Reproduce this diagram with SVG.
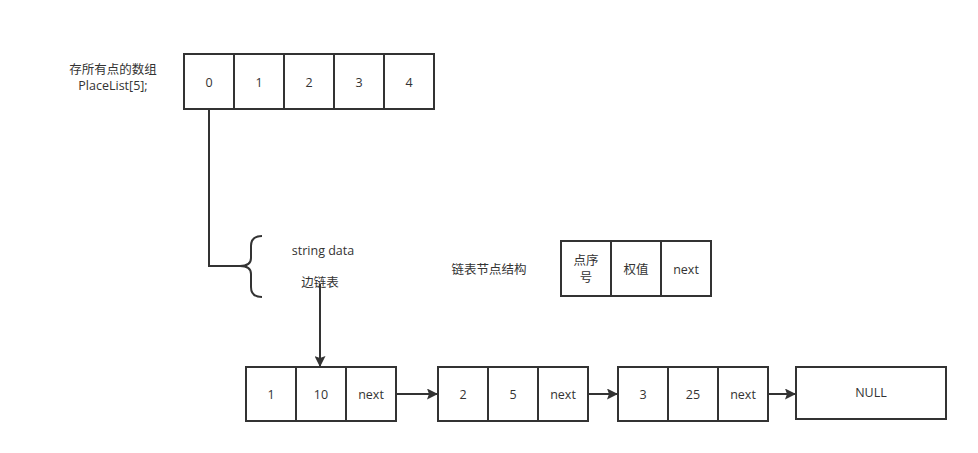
<svg xmlns="http://www.w3.org/2000/svg" width="978" height="453" viewBox="0 0 978 453">
<defs>
<style>
.box{fill:#fff;stroke:#333;stroke-width:2}
.ln{fill:none;stroke:#333;stroke-width:2}
text{font-family:"Open Sans","Noto Sans CJK SC",sans-serif;font-size:12.5px;fill:#333;text-anchor:middle;dominant-baseline:central}
</style>
<marker id="ah" markerWidth="11" markerHeight="11" refX="10" refY="5.5" orient="auto" markerUnits="userSpaceOnUse">
<path d="M0,0 L11,5.5 L0,11 L2,5.5 Z" fill="#333"/>
</marker>
</defs>
<rect width="978" height="453" fill="#fff"/>
<g id="array-label">
<text x="113" y="69">存所有点的数组</text>
<text x="113" y="85">PlaceList[5];</text>
</g>
<g id="array">
<rect class="box" x="184" y="54" width="50" height="55"/><text x="209" y="82">0</text>
<rect class="box" x="234" y="54" width="50" height="55"/><text x="259" y="82">1</text>
<rect class="box" x="284" y="54" width="50" height="55"/><text x="309" y="82">2</text>
<rect class="box" x="334" y="54" width="50" height="55"/><text x="359" y="82">3</text>
<rect class="box" x="384" y="54" width="50" height="55"/><text x="409" y="82">4</text>
</g>
<g id="brace">
<path class="ln" d="M262,236 Q251,236 251,246 L251,258 Q251,266 240,266 Q251,266 251,274 L251,287 Q251,297 262,297"/>
<text x="323" y="250">string data</text>
<text x="320" y="282">边链表</text>
</g>
<g id="struct-label">
<text x="489" y="269">链表节点结构</text>
</g>
<g id="struct">
<rect class="box" x="561" y="241" width="50" height="55"/>
<text x="586" y="260">点序</text><text x="586" y="277">号</text>
<rect class="box" x="611" y="241" width="50" height="55"/><text x="636" y="269">权值</text>
<rect class="box" x="661" y="241" width="50" height="55"/><text x="686" y="269">next</text>
</g>
<g id="node1">
<rect class="box" x="246" y="367" width="50" height="54"/><text x="271" y="394">1</text>
<rect class="box" x="296" y="367" width="50" height="54"/><text x="321" y="394">10</text>
<rect class="box" x="346" y="367" width="50" height="54"/><text x="371" y="394">next</text>
</g>
<g id="node2">
<rect class="box" x="438" y="367" width="50" height="54"/><text x="463" y="394">2</text>
<rect class="box" x="488" y="367" width="50" height="54"/><text x="513" y="394">5</text>
<rect class="box" x="538" y="367" width="50" height="54"/><text x="563" y="394">next</text>
</g>
<g id="node3">
<rect class="box" x="618" y="367" width="50" height="54"/><text x="643" y="394">3</text>
<rect class="box" x="668" y="367" width="50" height="54"/><text x="693" y="394">25</text>
<rect class="box" x="718" y="367" width="50" height="54"/><text x="743" y="394">next</text>
</g>
<g id="null">
<rect class="box" x="796" y="367" width="150" height="52"/><text x="871" y="392">NULL</text>
</g>
<g id="connectors">
<path class="ln" d="M209,109 L209,266 L240,266"/>
<path class="ln" d="M320,284 L320,366" marker-end="url(#ah)"/>
<path class="ln" d="M396,394 L437,394" marker-end="url(#ah)"/>
<path class="ln" d="M588,394 L617,394" marker-end="url(#ah)"/>
<path class="ln" d="M768,394 L795,394" marker-end="url(#ah)"/>
</g>
</svg>
